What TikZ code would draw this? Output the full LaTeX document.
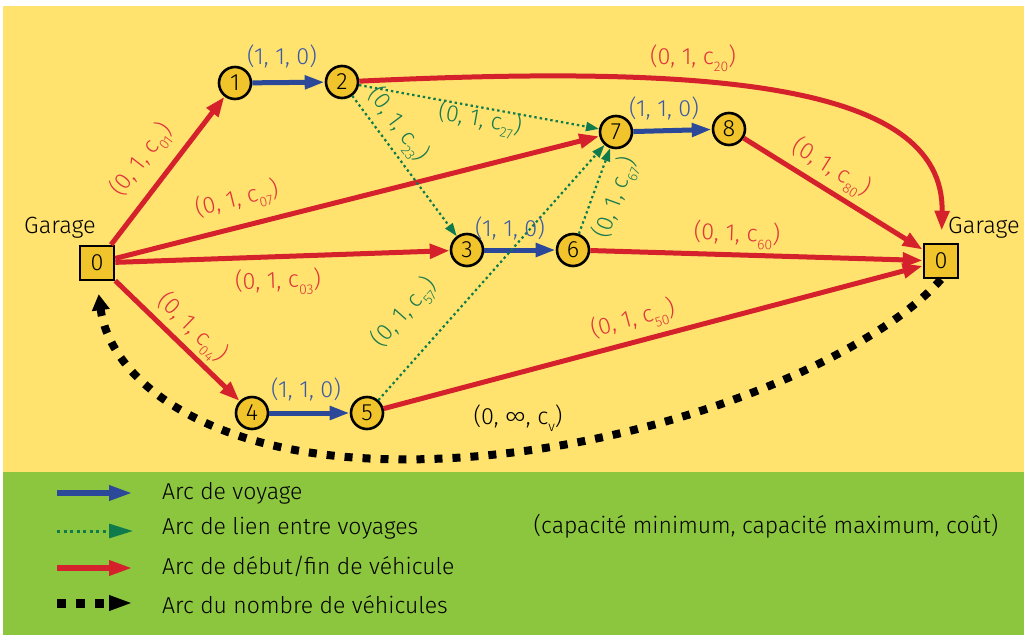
\documentclass[tikz,border=0pt]{standalone}
\usepackage{fontspec}
\setmainfont{Fira Sans Light}[Numbers=Proportional]
\usetikzlibrary{arrows.meta}

\definecolor{bgyellow}{HTML}{FFE36E}
\definecolor{bggreen}{HTML}{8CC63F}
\definecolor{nodefill}{HTML}{F2C42C}
\definecolor{arcred}{HTML}{D4212C}
\definecolor{arcblue}{HTML}{2B4899}
\definecolor{arcgreen}{HTML}{0F7A4C}
\definecolor{txtred}{HTML}{E0363C}
\definecolor{txtblue}{HTML}{3A5AA8}
\definecolor{txtgreen}{HTML}{1A7A4E}

% cost symbol with a lowered subscript
\newcommand\csub[1]{c\raisebox{-0.3em}{\fontsize{14}{14}\selectfont#1}}

\begin{document}
\begin{tikzpicture}[x=1pt,y=-1pt,
  every node/.style={font=\fontsize{23.5}{28}\selectfont, inner sep=2pt},
  stop/.style={circle, draw=black, line width=2.6pt, fill=nodefill, minimum size=32pt, inner sep=0pt},
  garage/.style={rectangle, draw=black, line width=2.6pt, fill=nodefill, minimum size=34pt, inner sep=0pt},
  redarc/.style={draw=arcred, line width=5pt, -{Triangle[length=20pt,width=14pt]}},
  bluearc/.style={draw=arcblue, line width=5pt, -{Triangle[length=20pt,width=13pt]}},
  greenarc/.style={draw=arcgreen, line width=2.2pt, dash pattern=on 2.4pt off 3pt, -{Triangle[length=13pt,width=9pt]}},
  fleetarc/.style={draw=black, line width=8pt, dash pattern=on 8pt off 10pt, -{Triangle[length=16pt,width=17pt]}},
  redlbl/.style={text=txtred},
  bluelbl/.style={text=txtblue},
  greenlbl/.style={text=txtgreen},
  legtext/.style={anchor=west, text=black, font=\fontsize{23}{27}\selectfont},
]
\useasboundingbox (0,0) rectangle (1024,635);

% backgrounds
\fill[white] (0,0) rectangle (1024,635);
\fill[bgyellow] (3,6) rectangle (1024,472);
\fill[bggreen] (3,472) rectangle (1024,635);

% garages and trips
\node[garage] (g0L) at (97,263) {0};
\node[garage] (g0R) at (941,261) {0};
\node (gtL) at (60,228) {Garage};
\node (gtR) at (984,228) {Garage};

\node[stop] (n1) at (235,83) {1};
\node[stop] (n2) at (342,82) {2};
\node[stop] (n3) at (467,250) {3};
\node[stop] (n4) at (252,413) {4};
\node[stop] (n5) at (367,413) {5};
\node[stop] (n6) at (573,250) {6};
\node[stop] (n7) at (616,132) {7};
\node[stop] (n8) at (729,129) {8};

% vehicle start / end arcs
\draw[redarc] (g0L) -- (n1);
\draw[redarc] (g0L) -- (n7);
\draw[redarc] (g0L) -- (n3);
\draw[redarc] (g0L) -- (n4);
\draw[redarc] (n8) -- (g0R);
\draw[redarc] (n6) -- (g0R);
\draw[redarc] (n5) -- (g0R);
\draw[redarc, shorten >=12pt] (n2) .. controls (700,65) and (945,80) .. (g0R);

% trip arcs
\draw[bluearc] (n1) -- (n2);
\draw[bluearc] (n3) -- (n6);
\draw[bluearc] (n4) -- (n5);
\draw[bluearc] (n7) -- (n8);

% link arcs between trips
\draw[greenarc] (n2) -- (n7);
\draw[greenarc] (n2) -- (n3);
\draw[greenarc] (n5) -- (n7);
\draw[greenarc] (n6) -- (n7);

% fleet size arc
\coordinate (fmid) at (430,459);
\draw[fleetarc, shorten >=13pt] (g0R.south) .. controls (870,360) and (650,452) .. (fmid)
  .. controls (210,466) and (110,380) .. (g0L.south);

% arc labels
\node[redlbl, rotate=52.5] (l01) at (142,160) {(0, 1, \csub{01})};
\node[redlbl, rotate=14] (l07) at (237,200) {(0, 1, \csub{07})};
\node[redlbl, rotate=2] (l03) at (278,282) {(0, 1, \csub{03})};
\node[redlbl, rotate=-44] (l04) at (192,328) {(0, 1, \csub{04})};
\node[redlbl] (l20) at (693,58) {(0, 1, \csub{20})};
\node[redlbl, rotate=-32] (l80) at (831,168) {(0, 1, \csub{80})};
\node[redlbl, rotate=-2] (l60) at (737,235) {(0, 1, \csub{60})};
\node[redlbl, rotate=15] (l50) at (633,320) {(0, 1, \csub{50})};

\node[bluelbl] (l12) at (282,56) {(1, 1, 0)};
\node[bluelbl] (l36) at (510,228) {(1, 1, 0)};
\node[bluelbl] (l45) at (306,389) {(1, 1, 0)};
\node[bluelbl] (l78) at (664,108) {(1, 1, 0)};

\node[greenlbl, rotate=-53] (l23) at (398,125) {(0, 1, \csub{23})};
\node[greenlbl, rotate=-10] (l27) at (480,120) {(0, 1, \csub{27})};
\node[greenlbl, rotate=48.5] (l57) at (405,313) {(0, 1, \csub{57})};
\node[greenlbl, rotate=70] (l67) at (616,198) {(0, 1, \csub{67})};

\node (lv) at (518,418) {(0, ∞, \csub{v})};

% legend
\coordinate (k1a) at (57,493);  \coordinate (k1b) at (133,493);
\coordinate (k2a) at (57,531);  \coordinate (k2b) at (133,531);
\coordinate (k3a) at (57,568);  \coordinate (k3b) at (133,568);
\coordinate (k4a) at (57,603);  \coordinate (k4b) at (133,603);
\draw[bluearc, line width=6pt, -{Triangle[length=24pt,width=14pt]}] (k1a) -- (k1b);
\draw[greenarc, line width=3pt, dash pattern=on 3pt off 3.5pt, -{Triangle[length=24pt,width=14pt]}] (k2a) -- (k2b);
\draw[redarc, line width=6pt, -{Triangle[length=24pt,width=14pt]}] (k3a) -- (k3b);
\draw[fleetarc, line width=9pt, dash pattern=on 9pt off 10pt, -{Triangle[length=24pt,width=14pt]}] (k4a) -- (k4b);

\node[legtext] (t1) at (160,493) {Arc de voyage};
\node[legtext] (t2) at (160,528) {Arc de lien entre voyages};
\node[legtext] (t3) at (160,566) {Arc de début/fin de véhicule};
\node[legtext] (t4) at (160,605) {Arc du nombre de véhicules};
\node[text=black, font=\fontsize{23}{27}\selectfont] (cap) at (766,526) {(capacité minimum, capacité maximum, coût)};
\end{tikzpicture}
\end{document}
